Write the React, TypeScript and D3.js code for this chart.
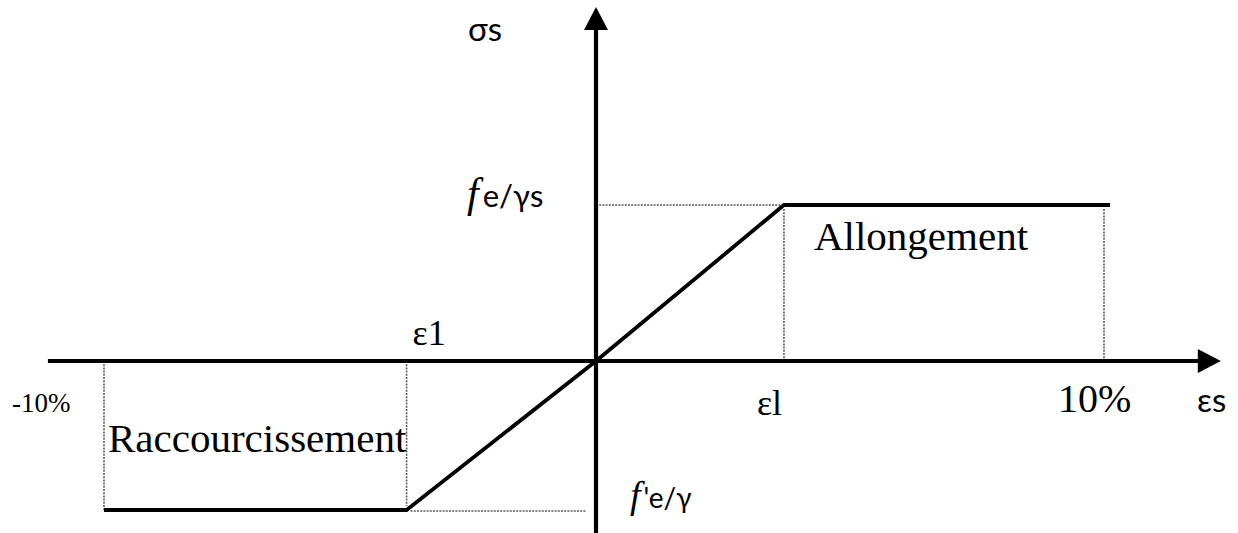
import React from "react";
import * as d3 from "d3";

// ---- data ----
// strain (‰ shown as %) breakpoints of the horizontal axis: [-10%, origin, 10%]
const strainTicks = [-10, 0, 10];
// stress breakpoints: [-f'e/γ, 0, fe/γs]
const stressTicks = [-1, 0, 1];
// elastic limit strain (compression / tension side)
const epsCompression = -3.85;
const epsTension = 3.7;
// stress-strain diagram (bilinear, elastic-perfectly-plastic)
const curveStrain = [-10, epsCompression, 0, epsTension, 10.12];
const curveStress = [-1, -1, 0, 1, 1];
// axis extents
const xAxisExtent = [-11.14, 12.3];
const yAxisExtent = [-1.16, 2.27];

const W = 1238;
const H = 533;

const serif = "'Liberation Serif', 'Times New Roman', serif";
const sans = "Lato, 'Open Sans', 'DejaVu Sans', sans-serif";

export default function App() {
  const x = d3.scaleLinear().domain(strainTicks).range([104, 596, 1104]);
  const y = d3.scaleLinear().domain(stressTicks).range([510, 361, 205]);

  const line = d3
    .line<number>()
    .x((_, i) => x(curveStrain[i]))
    .y((d) => y(d));

  const x0 = x(0);
  const y0 = y(0);
  const xEnd = x(xAxisExtent[1]);
  const yTop = y(yAxisExtent[1]);

  const dotted = {
    stroke: "#5a5a5a",
    strokeWidth: 1.6,
    strokeDasharray: "2 1.2",
    fill: "none",
  } as const;

  const dottedSegs: [number, number, number, number][] = [
    [x(epsTension), y(1) + 4, x(epsTension), y(0)],
    [x(10), y(1) + 4, x(10), y(0)],
    [x(0), y(1), x(epsTension) - 4, y(1)],
    [x(epsCompression), y(0), x(epsCompression), y(-1) - 4],
    [x(-10), y(0), x(-10), y(-1)],
    [x(epsCompression) + 4, y(-1) + 1, x(0) - 10, y(-1) + 1],
  ];

  return (
    <svg
      width={W}
      height={H}
      style={{ position: "absolute", left: 0, top: 0, background: "#fff" }}
    >
      <rect width={W} height={H} fill="#fff" />
      {dottedSegs.map((s, i) => (
        <line key={i} x1={s[0]} y1={s[1]} x2={s[2]} y2={s[3]} {...dotted} />
      ))}
      {/* axes */}
      <line
        x1={x(xAxisExtent[0])}
        y1={y0}
        x2={xEnd - 18}
        y2={y0}
        stroke="#000"
        strokeWidth={4.2}
      />
      <polygon
        points={`${xEnd},${y0} ${xEnd - 23},${y0 - 12} ${xEnd - 23},${y0 + 12}`}
        fill="#000"
      />
      <line
        x1={x0}
        y1={y(yAxisExtent[0])}
        x2={x0}
        y2={yTop + 18}
        stroke="#000"
        strokeWidth={4.2}
      />
      <polygon
        points={`${x0},${yTop} ${x0 - 12},${yTop + 23} ${x0 + 12},${yTop + 23}`}
        fill="#000"
      />
      {/* curve */}
      <path
        d={line(curveStress) || ""}
        fill="none"
        stroke="#000"
        strokeWidth={3.8}
        strokeLinejoin="miter"
      />
      {/* labels */}
      <text x={x0 - 128} y={yTop + 34} fontFamily={sans} fontSize={33} fill="#000">
        σs
      </text>
      <text x={x0 - 129} y={y(1) + 2} fill="#000">
        <tspan fontFamily={serif} fontStyle="italic" fontSize={42}>
          f
        </tspan>
        <tspan fontFamily={sans} fontSize={31} dx={4}>
          e/γs
        </tspan>
      </text>
      <text x={x(epsCompression) + 6} y={y0 - 16} fontFamily={serif} fontSize={36} fill="#000">
        ε1
      </text>
      <text x={x(epsTension) - 27} y={y0 + 54} fontFamily={serif} fontSize={36} fill="#000">
        εl
      </text>
      <text x={12} y={y0 + 51} fontFamily={serif} fontSize={27} fill="#000">
        -10%
      </text>
      <text x={x(-10) + 4} y={y0 + 91} fontFamily={serif} fontSize={41} fill="#000">
        Raccourcissement
      </text>
      <text x={x(epsTension) + 30} y={y(1) + 45} fontFamily={serif} fontSize={41} fill="#000">
        Allongement
      </text>
      <text x={x(10) - 46} y={y0 + 51} fontFamily={serif} fontSize={40} fill="#000">
        10%
      </text>
      <text x={1197} y={y0 + 51} fontFamily={sans} fontSize={33} fill="#000">
        εs
      </text>
      <text x={x0 + 34} y={y(-1) - 2} fill="#000">
        <tspan fontFamily={serif} fontStyle="italic" fontSize={38}>
          f
        </tspan>
        <tspan fontFamily={sans} fontSize={28} dx={3}>
          'e/γ
        </tspan>
      </text>
    </svg>
  );
}
